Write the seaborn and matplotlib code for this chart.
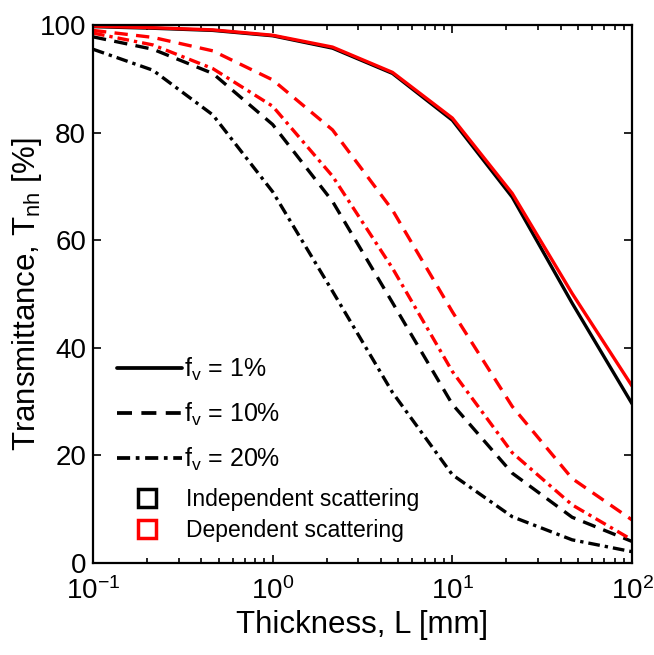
import numpy as np
import pandas as pd
import matplotlib
matplotlib.use("Agg")
import matplotlib.pyplot as plt
import seaborn as sns
from matplotlib.lines import Line2D
from matplotlib.ticker import LogLocator, NullFormatter

# ---- data ----
thickness_mm = [0.1, 0.2154, 0.4642, 1.0, 2.154, 4.642, 10.0, 21.54, 46.42, 100.0]
indep_fv1 = [99.7, 99.4, 99.0, 98.0, 95.7, 91.0, 82.3, 68.0, 48.3, 29.6]
dep_fv1 = [99.8, 99.5, 99.1, 98.1, 95.9, 91.2, 82.7, 68.7, 50.1, 32.9]
indep_fv10 = [97.8, 95.5, 91.0, 81.5, 67.2, 48.4, 29.5, 16.7, 8.5, 4.0]
dep_fv10 = [99.0, 97.7, 95.2, 89.8, 80.5, 65.6, 46.7, 29.1, 15.7, 8.0]
indep_fv20 = [95.5, 91.6, 83.3, 69.0, 50.5, 31.7, 16.4, 8.6, 4.3, 2.1]
dep_fv20 = [98.5, 96.3, 91.9, 84.9, 71.9, 54.8, 35.6, 20.5, 10.8, 4.3]

fv_labels = ["1%", "10%", "20%"]
scattering = ["Independent", "Dependent"]
x_ticks = [0.1, 1, 10, 100]
y_ticks = [0, 20, 40, 60, 80, 100]

series = [
    ("Independent", "1%", indep_fv1), ("Dependent", "1%", dep_fv1),
    ("Independent", "10%", indep_fv10), ("Dependent", "10%", dep_fv10),
    ("Independent", "20%", indep_fv20), ("Dependent", "20%", dep_fv20),
]
rows = []
for scat, fv, vals in series:
    for L, T in zip(thickness_mm, vals):
        rows.append({"L": L, "T": T, "fv": fv, "scattering": scat})
df = pd.DataFrame(rows)

# ---- style ----
sns.set_style("ticks")
plt.rcParams['font.family'] = ['Liberation Sans', 'DejaVu Sans']
plt.rcParams['mathtext.fontset'] = 'custom'
plt.rcParams['mathtext.rm'] = 'Liberation Sans'
plt.rcParams['mathtext.it'] = 'Liberation Sans'
plt.rcParams['mathtext.default'] = 'regular'
for k in ["text.color", "axes.labelcolor", "xtick.color", "ytick.color", "axes.edgecolor"]:
    plt.rcParams[k] = "black"

dash_map = {"1%": "", "10%": (4, 2.5), "20%": (3.5, 1.5, 1, 1.5)}
lw = 2.4

fig = plt.figure(figsize=(6.54, 6.55), dpi=100)
ax = fig.add_axes([0.1422, 0.1405, 0.8242, 0.8213])

sns.lineplot(data=df, x="L", y="T", hue="scattering", hue_order=scattering,
             palette=["black", "red"], style="fv", style_order=fv_labels,
             dashes=dash_map, linewidth=lw, legend=False, ax=ax,
             errorbar=None, sort=True)

ax.set_xscale("log")
ax.set_xlim(0.1, 100)
ax.set_ylim(0, 100)
ax.set_xticks(x_ticks)
ax.xaxis.set_minor_locator(LogLocator(base=10, subs=np.arange(2, 10)))
ax.xaxis.set_minor_formatter(NullFormatter())
ax.set_yticks(y_ticks)

ax.tick_params(which="both", direction="in", top=True, right=True,
               color="black", width=1.2)
ax.tick_params(which="major", length=6, labelsize=20)
ax.tick_params(axis="x", which="major", pad=10)
ax.tick_params(axis="y", which="major", pad=5)
ax.tick_params(which="minor", length=3.5)
for sp in ax.spines.values():
    sp.set_linewidth(1.6)
    sp.set_color("black")

ax.set_xlabel("Thickness, L [mm]", fontsize=22.5, labelpad=4)
ax.set_ylabel(r"Transmittance, $T_{nh}$ [%]", fontsize=22.5, labelpad=-3)

# ---- legends ----
line_handles = [Line2D([], [], color="black", lw=lw + 0.3, linestyle="-")]
for fv in fv_labels[1:]:
    h = Line2D([], [], color="black", lw=lw + 0.3)
    h.set_dashes(dash_map[fv])
    line_handles.append(h)
line_labels = [r"$f_v$ = " + fv for fv in fv_labels]
leg1 = ax.legend(line_handles, line_labels, loc="upper left",
                 bbox_to_anchor=(0.045, 0.386), frameon=False, fontsize=18,
                 handlelength=2.6, handletextpad=0.05, labelspacing=0.72,
                 borderaxespad=0, borderpad=0)
ax.add_artist(leg1)

sq_handles = [Line2D([], [], marker="s", linestyle="none", markersize=13,
                     markerfacecolor="none", markeredgecolor=c, markeredgewidth=2.5)
              for c in ["black", "red"]]
sq_labels = ["Independent scattering", "Dependent scattering"]
ax.legend(sq_handles, sq_labels, loc="upper left", bbox_to_anchor=(0.045, 0.14),
          frameon=False, fontsize=16.5, handlelength=2.6, handletextpad=0.4,
          labelspacing=0.38, borderaxespad=0, borderpad=0)

fig.savefig("out.png", dpi=100, facecolor="white")
